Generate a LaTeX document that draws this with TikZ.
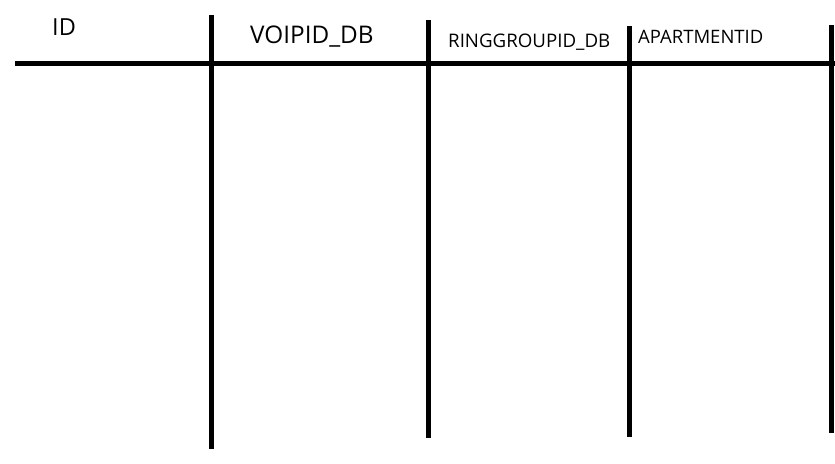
\documentclass[tikz,border=0pt]{standalone}
\usepackage{fontspec}
\setmainfont{Open Sans}
\begin{document}
\begin{tikzpicture}[x=1pt,y=-1pt,
  rule/.style={line width=5pt,black},
  lbl/.style={anchor=base west,inner sep=0pt,text=black}]
\useasboundingbox (0,0) rectangle (835,463);
\fill[white] (0,0) rectangle (835,463);
% horizontal rule
\coordinate (hl) at (15,63);
\coordinate (hr) at (835,63);
\draw[rule] (hl) -- (hr);
% vertical rules
\coordinate (v1t) at (211,15);  \coordinate (v1b) at (211,449);
\coordinate (v2t) at (428,20);  \coordinate (v2b) at (428,438);
\coordinate (v3t) at (629,26);  \coordinate (v3b) at (629,437);
\coordinate (v4t) at (831,25);  \coordinate (v4b) at (831,433);
\draw[rule] (v1t) -- (v1b);
\draw[rule] (v2t) -- (v2b);
\draw[rule] (v3t) -- (v3b);
\draw[rule] (v4t) -- (v4b);
% labels
\node[lbl,font=\fontsize{23.5}{27}\selectfont] (id) at (52,35) {ID};
\node[lbl,font=\fontsize{24.3}{28}\selectfont] (voip) at (250,43) {VOIPID\_DB};
\node[lbl,font=\fontsize{18.7}{22}\selectfont] (ring) at (448,47) {RINGGROUPID\_DB};
\node[lbl,font=\fontsize{18.5}{21}\selectfont] (apt) at (638,43) {APARTMENTID};
\end{tikzpicture}
\end{document}
